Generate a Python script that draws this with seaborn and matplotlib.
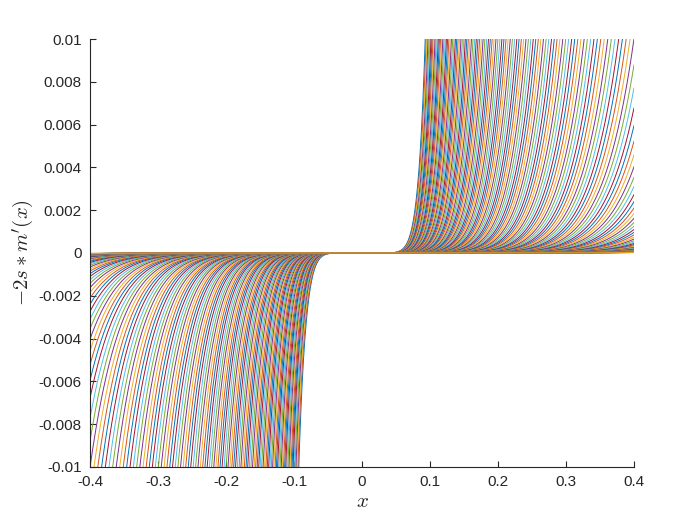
import numpy as np
import pandas as pd
import matplotlib
matplotlib.use("Agg")
import matplotlib.pyplot as plt
import seaborn as sns
from matplotlib.ticker import FormatStrFormatter

# параметры семейства кривых, оценены по картинке
first_cross = 0.093   # самая внутренняя кривая выходит на +-0.01 здесь
last_cross = 0.80     # самая внешняя (почти ноль при x=0.4)
n_curves = 150
power = 9.0
y_cap = 0.01

x_ticks = [-0.4, -0.3, -0.2, -0.1, 0, 0.1, 0.2, 0.3, 0.4]
y_ticks = [-0.01, -0.008, -0.006, -0.004, -0.002, 0, 0.002, 0.004, 0.006, 0.008, 0.01]

# цвета matlab по умолчанию
matlab_colors = ["#0072BD", "#D95319", "#EDB120", "#7E2F8E",
                 "#77AC30", "#4DBEEE", "#A2142F"]

x = np.linspace(-0.4, 0.4, 1601)
crossings = np.geomspace(first_cross, last_cross, n_curves)

frames = []
for k, c in enumerate(crossings):
    y = np.sign(x) * y_cap * (np.abs(x) / c) ** power
    frames.append(pd.DataFrame({"x": x, "y": y, "curve": k}))
df = pd.concat(frames, ignore_index=True)

palette = [matlab_colors[k % len(matlab_colors)] for k in range(n_curves)]

sns.set_style("ticks")
plt.rcParams["font.family"] = ["Liberation Sans", "DejaVu Sans"]
plt.rcParams["mathtext.fontset"] = "cm"

fig = plt.figure(figsize=(7, 5.25), dpi=100)
ax = fig.add_axes([0.1286, 0.1105, 0.7771, 0.8152])

sns.lineplot(data=df, x="x", y="y", hue="curve", palette=palette,
             legend=False, linewidth=0.7, sort=False, ax=ax,
             estimator=None, errorbar=None)

ax.set_xlim(-0.4, 0.4)
ax.set_ylim(-0.01, 0.01)
ax.set_xticks(x_ticks)
ax.set_yticks(y_ticks)
ax.xaxis.set_major_formatter(FormatStrFormatter("%g"))
ax.yaxis.set_major_formatter(FormatStrFormatter("%g"))
ax.tick_params(direction="in", length=4, width=0.8, colors="#262626",
               labelsize=11, pad=6)
for side in ["top", "right"]:
    ax.spines[side].set_visible(False)
for side in ["left", "bottom"]:
    ax.spines[side].set_color("#262626")
    ax.spines[side].set_linewidth(0.8)

ax.set_xlabel("$x$", fontsize=15, color="#262626", labelpad=2)
ax.set_ylabel("$-2s*m'(x)$", fontsize=15, color="#262626", labelpad=2)

fig.savefig("out.png", dpi=100)
